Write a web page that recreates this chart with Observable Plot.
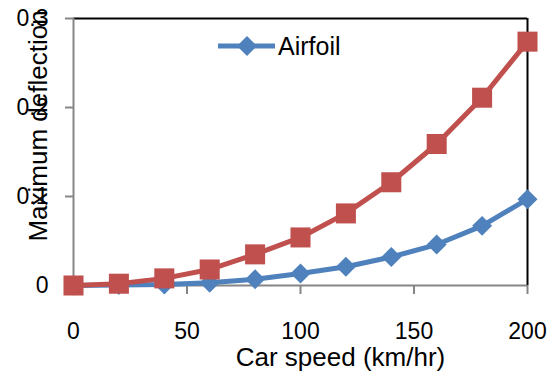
<!DOCTYPE html>
<html>
<head>
<meta charset="utf-8">
<script src="https://cdn.jsdelivr.net/npm/d3@7"></script>
<script src="https://cdn.jsdelivr.net/npm/@observablehq/plot@0.6"></script>
<style>
  html, body { margin: 0; padding: 0; background: #fff; }
  #chart { position: relative; width: 558px; height: 373px; }
</style>
</head>
<body>
<div id="chart"></div>
<script>
const speeds = [0, 20, 40, 60, 80, 100, 120, 140, 160, 180, 200];
const airfoil = [0, 0.0005, 0.001, 0.003, 0.007, 0.0135, 0.021, 0.032, 0.046, 0.067, 0.097];
const other = [0, 0.002, 0.008, 0.018, 0.035, 0.054, 0.081, 0.116, 0.159, 0.211, 0.274];
const xTicks = [0, 50, 100, 150, 200];
const yTicks = [0, 0.1, 0.2, 0.3];
const yTickLabels = ["0", "0.1", "0.2", "0.3"];
const legendLabel = "Airfoil";
const xTitle = "Car speed (km/hr)";
const yTitle = "Maximum deflection";

const blueRows = speeds.map((s, i) => ({speed: s, value: airfoil[i]}));
const redRows = speeds.map((s, i) => ({speed: s, value: other[i]}));

const BLUE = "#4F81BD", RED = "#C0504D", AXIS = "#868686";
const font = "'Liberation Sans', Arial, sans-serif";

const plot = Plot.plot({
  width: 558,
  height: 373,
  marginLeft: 73,
  marginRight: 31,
  marginTop: 18,
  marginBottom: 88,
  style: {fontSize: "23px", fontFamily: font, background: "#fff", color: "#000", overflow: "visible"},
  x: {domain: [0, 200]},
  y: {domain: [0, 0.3]},
  marks: [
    Plot.ruleY([0.3], {stroke: "#000", strokeWidth: 2}),
    Plot.ruleX([200], {stroke: "#000", strokeWidth: 2}),
    Plot.ruleY([0], {stroke: AXIS, strokeWidth: 2}),
    Plot.ruleX([0], {stroke: AXIS, strokeWidth: 2}),
    Plot.axisX({ticks: xTicks, tickSize: 9, tickPadding: 28, stroke: AXIS, fill: "#000", strokeWidth: 2, label: null}),
    Plot.axisY({ticks: yTicks, tickSize: 8, tickPadding: 17, stroke: AXIS, fill: "#000", strokeWidth: 2, label: null,
      tickFormat: (d) => yTickLabels[yTicks.indexOf(d)]}),
    Plot.line(blueRows, {x: "speed", y: "value", stroke: BLUE, strokeWidth: 5}),
    Plot.dot(blueRows, {x: "speed", y: "value", symbol: "diamond2", r: 9, fill: BLUE, stroke: "none"}),
    Plot.line(redRows, {x: "speed", y: "value", stroke: RED, strokeWidth: 5}),
    Plot.dot(redRows, {x: "speed", y: "value", symbol: "square", r: 11.3, fill: RED, stroke: "none"}),
    Plot.text([xTitle], {frameAnchor: "bottom", textAnchor: "middle", lineAnchor: "middle", dx: 40, dy: 72, fontSize: 26, fill: "#000"}),
    Plot.text([yTitle], {frameAnchor: "left", textAnchor: "middle", lineAnchor: "middle", rotate: -90, dx: -35, dy: -26, fontSize: 26, fill: "#000"})
  ]
});

// Legend inside the plot area
const svg = d3.select(plot);
const lg = svg.append("g");
lg.append("line").attr("x1", 218).attr("x2", 275).attr("y1", 46).attr("y2", 46)
  .attr("stroke", BLUE).attr("stroke-width", 5);
lg.append("path").attr("d", d3.symbol(d3.symbolDiamond2, Math.PI * 81)()).attr("transform", "translate(247,46)")
  .attr("fill", BLUE);
lg.append("text").attr("x", 278).attr("y", 55).attr("font-size", 25).attr("font-family", font)
  .attr("text-anchor", "start").attr("fill", "#000").text(legendLabel);

document.getElementById("chart").appendChild(plot);
</script>
</body>
</html>
